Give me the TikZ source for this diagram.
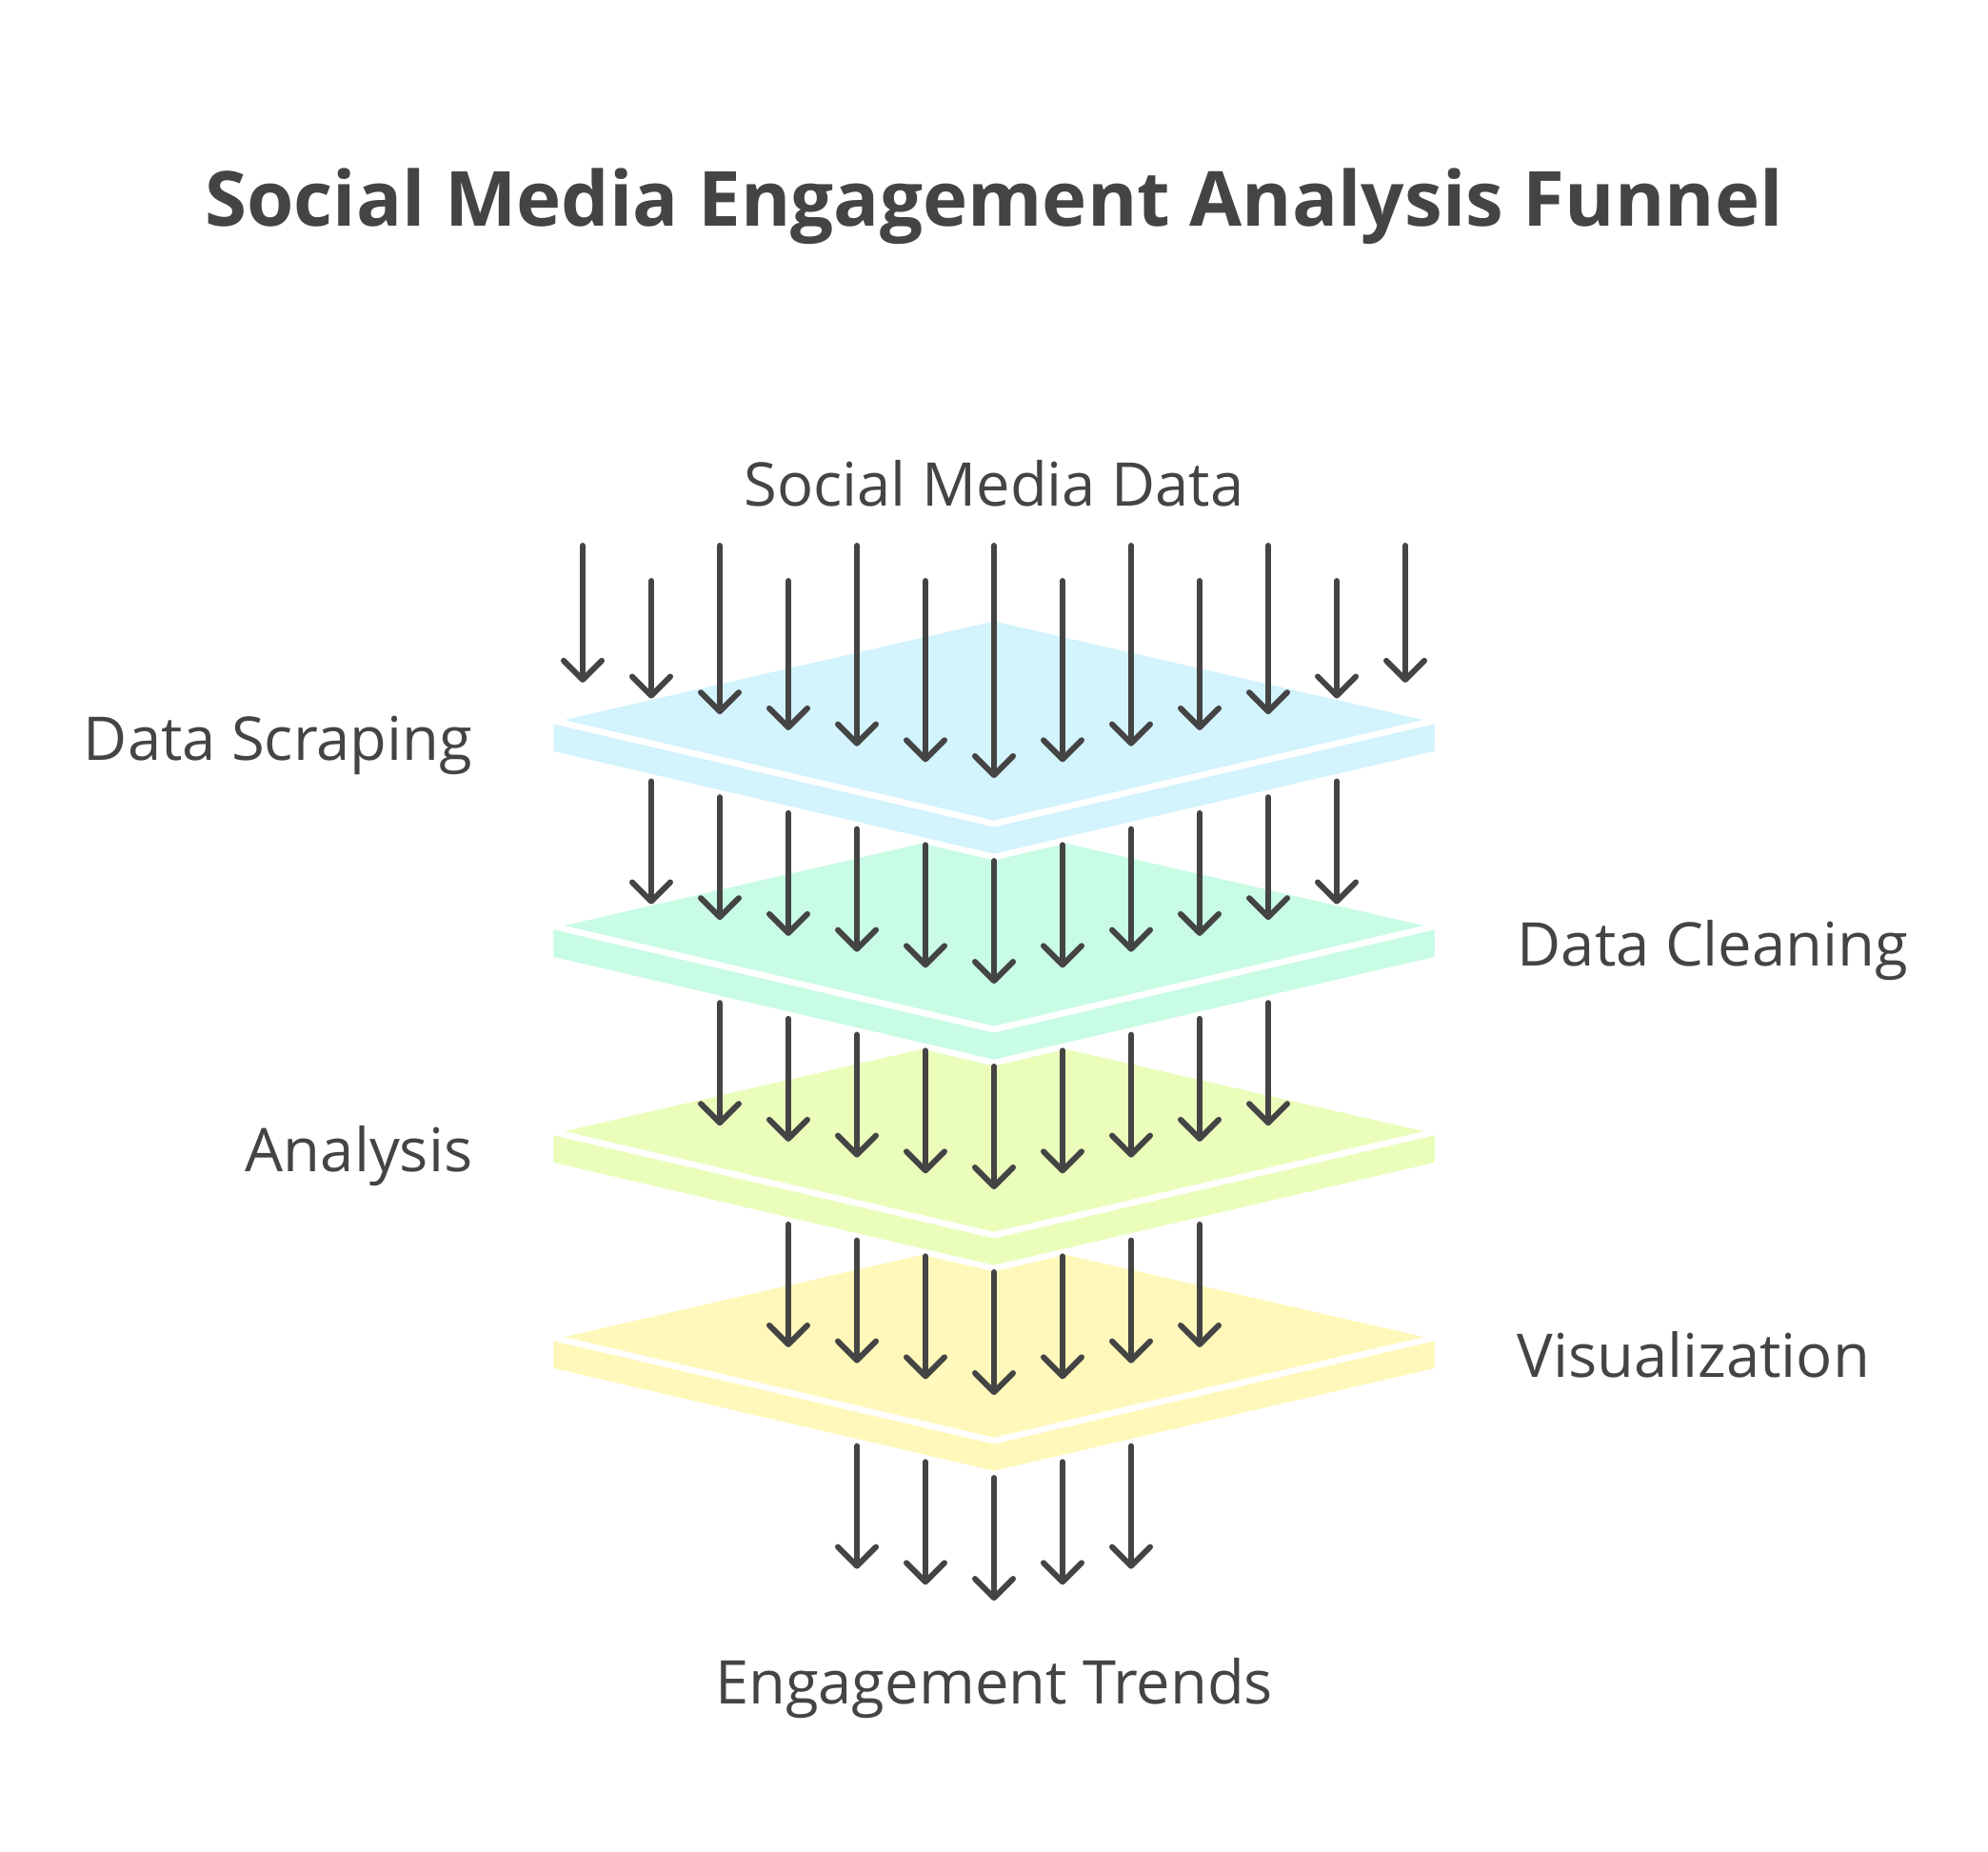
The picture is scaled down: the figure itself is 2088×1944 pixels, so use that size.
\documentclass[tikz,border=0pt]{standalone}
\usepackage{xcolor}
\usepackage{fontspec}
\setmainfont{Open Sans}
\usepackage{tikz}
\usetikzlibrary{positioning,calc,arrows.meta}

\definecolor{inkgray}{RGB}{68,68,68}
\definecolor{plateblue}{RGB}{211,243,253}
\definecolor{plategreen}{RGB}{200,252,228}
\definecolor{platelime}{RGB}{234,253,187}
\definecolor{plateyellow}{RGB}{255,248,186}

\tikzset{
    flowarrow/.style={draw=inkgray, line width=0.06cm, line cap=round,
        -{Straight Barb[length=0.2cm, width=0.4cm, line cap=round, line join=round]}},
    platepart/.style={draw=white, line width=0.065cm, line join=round},
    labeltext/.style={text=inkgray, font=\fontsize{18}{22}\selectfont, inner sep=0pt},
}

\begin{document}
\begin{tikzpicture}[x=0.01cm, y=-0.01cm]
    \useasboundingbox (0,0) rectangle (2088,1944);

    % Title
    \node[text=inkgray, font=\bfseries\fontsize{22.7}{27}\selectfont, inner sep=0pt, anchor=base]
        (title) at (1044,237) {Social Media Engagement Analysis Funnel};

    % Plates, lowest first
    \foreach \i/\col in {3/plateyellow, 2/platelime, 1/plategreen, 0/plateblue}{
        \begin{scope}[shift={(0,216*\i)}]
            \fill[\col, platepart] (578,756) -- (1044,865) -- (1510,756) -- (1510,791.5)
                -- (1044,900) -- (578,791.5) -- cycle;
            \fill[\col, platepart] (578,756) -- (1044,649) -- (1510,756) -- (1044,865) -- cycle;
        \end{scope}
    }

    % Arrows through the plates
    \foreach \r in {0,...,4}{
        \pgfmathtruncatemacro{\n}{6-\r}
        \foreach \k in {-\n,...,\n}{
            \pgfmathtruncatemacro{\j}{\k+6}
            \pgfmathsetmacro{\xa}{1044+72*\k}
            \pgfmathsetmacro{\ya}{\r==0 ? (mod(abs(\k),2)==1 ? 610 : 573) : 904+216*(\r-1)-16.7*abs(\k)}
            \pgfmathsetmacro{\yb}{817+216*\r-16.7*abs(\k)}
            \coordinate (s\r-\j) at (\xa,\ya);
            \coordinate (e\r-\j) at (\xa,\yb);
            \draw[flowarrow] (s\r-\j) -- (e\r-\j);
        }
    }

    % Labels
    \node[labeltext, anchor=base] (source) at (1044,531) {Social Media Data};
    \node[labeltext, anchor=base east] (scraping) at (497,798) {Data Scraping};
    \node[labeltext, anchor=base west] (cleaning) at (1593,1014) {Data Cleaning};
    \node[labeltext, anchor=base east] (analysis) at (497,1230) {Analysis};
    \node[labeltext, anchor=base west] (visual) at (1593,1446) {Visualization};
    \node[labeltext, anchor=base] (trends) at (1044,1789) {Engagement Trends};
\end{tikzpicture}
\end{document}
